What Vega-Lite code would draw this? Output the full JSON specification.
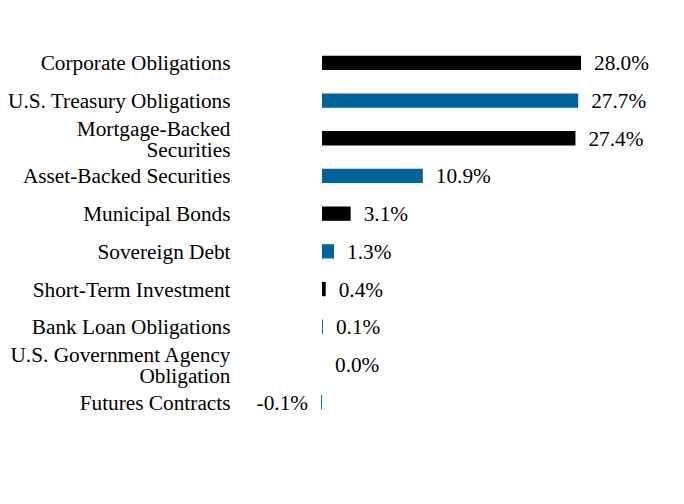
{
  "$schema": "https://vega.github.io/schema/vega-lite/v6.json",
  "autosize": {"type": "none"},
  "padding": {"left": 248, "top": 44, "right": 84.5, "bottom": 82},
  "width": 351.5,
  "height": 377,
  "background": "white",
  "config": {"view": {"stroke": null}, "font": "Liberation Serif"},
  "data": {"values": [
    {"category": "Corporate Obligations", "value": 28.0, "label": "28.0%", "group": "a"},
    {"category": "U.S. Treasury Obligations", "value": 27.7, "label": "27.7%", "group": "b"},
    {"category": "Mortgage-Backed|Securities", "value": 27.4, "label": "27.4%", "group": "a"},
    {"category": "Asset-Backed Securities", "value": 10.9, "label": "10.9%", "group": "b"},
    {"category": "Municipal Bonds", "value": 3.1, "label": "3.1%", "group": "a"},
    {"category": "Sovereign Debt", "value": 1.3, "label": "1.3%", "group": "b"},
    {"category": "Short-Term Investment", "value": 0.4, "label": "0.4%", "group": "a"},
    {"category": "Bank Loan Obligations", "value": 0.1, "label": "0.1%", "group": "b"},
    {"category": "U.S. Government Agency|Obligation", "value": 0.0, "label": "0.0%", "group": "a"},
    {"category": "Futures Contracts", "value": -0.1, "label": "-0.1%", "group": "b"}
  ]},
  "encoding": {
    "y": {
      "field": "category", "type": "nominal", "sort": null,
      "scale": {"paddingInner": 0.62, "paddingOuter": 0.31},
      "axis": {
        "title": null, "domain": false, "ticks": false, "labelPadding": 18,
        "labelFont": "Liberation Serif", "labelFontSize": 21.3, "labelColor": "black",
        "labelLimit": 400, "labelLineHeight": 21,
        "labelOffset": {"condition": {"test": "indexof(datum.value, '|') >= 0", "value": -8.5}, "value": 1.5},
        "labelExpr": "split(datum.label, '|')"
      }
    },
    "x": {
      "field": "value", "type": "quantitative",
      "scale": {"domain": [-8, 30], "nice": false, "zero": false},
      "axis": null
    }
  },
  "layer": [
    {
      "mark": {"type": "bar"},
      "encoding": {
        "color": {"field": "group", "type": "nominal", "legend": null,
          "scale": {"domain": ["a", "b"], "range": ["#000000", "#02639B"]}}
      }
    },
    {
      "transform": [{"filter": "datum.value >= 0"}],
      "mark": {"type": "text", "align": "left", "baseline": "middle", "dx": 13, "dy": 1.5, "fontSize": 21.3, "font": "Liberation Serif", "color": "black"},
      "encoding": {"text": {"field": "label"}}
    },
    {
      "transform": [{"filter": "datum.value < 0"}],
      "mark": {"type": "text", "align": "right", "baseline": "middle", "dx": -13, "dy": 1.5, "fontSize": 21.3, "font": "Liberation Serif", "color": "black"},
      "encoding": {"text": {"field": "label"}}
    }
  ]
}
